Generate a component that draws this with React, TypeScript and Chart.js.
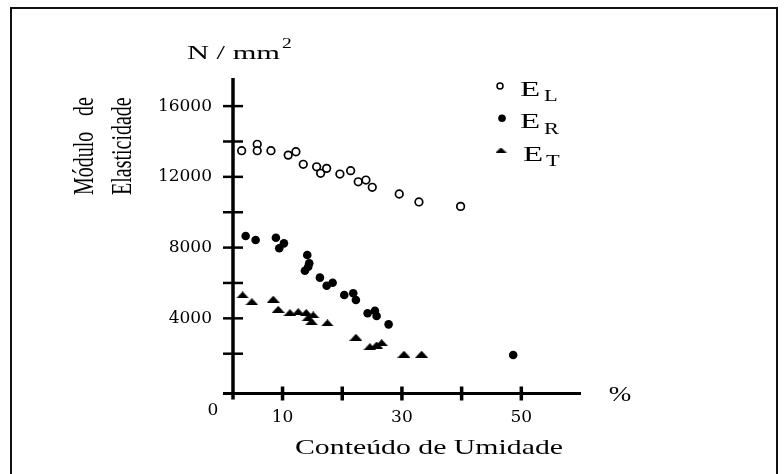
import React, { useEffect, useRef } from 'react';
import { Chart, registerables } from 'chart.js';

Chart.register(...registerables);

// ---- data ----
const elX = [3.15, 5.76, 5.76, 8.06, 10.95, 12.24, 13.47, 15.71, 16.38, 17.39, 19.61, 21.41, 22.68, 23.97, 25.03, 29.55, 32.85, 39.83];
const elY = [13480, 13840, 13480, 13480, 13230, 13420, 12710, 12570, 12200, 12480, 12160, 12350, 11720, 11820, 11410, 11030, 10580, 10330];

const erX = [3.82, 5.49, 8.89, 10.23, 9.45, 14.14, 14.47, 13.75, 14.3, 16.26, 17.39, 18.39, 20.34, 21.84, 22.29, 24.25, 25.48, 25.76, 27.77, 48.64];
const erY = [8655, 8430, 8560, 8240, 7960, 7580, 7110, 6690, 6920, 6300, 5845, 6015, 5320, 5415, 5040, 4285, 4430, 4130, 3660, 1930];

const etX = [3.32, 4.87, 8.44, 9.28, 11.24, 12.63, 13.97, 15.14, 14.25, 14.87, 17.52, 22.29, 24.64, 25.76, 26.6, 30.34, 33.3];
const etY = [5320, 4940, 5080, 4510, 4320, 4375, 4330, 4190, 4020, 3810, 3740, 2930, 2400, 2490, 2620, 1970, 1970];

const xTickMarks = [10, 20, 30, 40, 50];
const xTickLabels = [10, 30, 50];
const yTickMarks = [2000, 4000, 6000, 8000, 10000, 12000, 14000, 16000];
const yTickLabels = [4000, 8000, 12000, 16000];

const legendSubs = ['L', 'R', 'T'];
const yTitle = ['Módulo', 'de', 'Elasticidade'];
const xTitle = 'Conteúdo de Umidade';
const unitMain = 'N / mm';
const unitSup = '2';

const SERIF = '"Liberation Serif", "Times New Roman", serif';
const TICK_FONT = '"DejaVu Serif", serif';

function makeTriangle(w: number, h: number): HTMLCanvasElement {
  const c = document.createElement('canvas');
  c.width = w;
  c.height = h;
  const g = c.getContext('2d')!;
  g.fillStyle = '#000';
  g.beginPath();
  g.moveTo(0, h);
  g.lineTo(w, h);
  g.lineTo(w / 2, 0);
  g.closePath();
  g.fill();
  return c;
}

function stretched(
  ctx: CanvasRenderingContext2D,
  text: string,
  x: number,
  y: number,
  size: number,
  sx: number,
  align: 'left' | 'center' | 'right' = 'left',
  family: string = SERIF
) {
  ctx.save();
  ctx.font = `${size}px ${family}`;
  ctx.textBaseline = 'alphabetic';
  ctx.textAlign = 'left';
  ctx.fillStyle = '#000';
  const w = ctx.measureText(text).width * sx;
  const x0 = align === 'center' ? x - w / 2 : align === 'right' ? x - w : x;
  ctx.translate(x0, y);
  ctx.scale(sx, 1);
  ctx.fillText(text, 0, 0);
  ctx.restore();
  return w;
}

function fitWidth(ctx: CanvasRenderingContext2D, text: string, size: number, target: number) {
  ctx.save();
  ctx.font = `${size}px ${SERIF}`;
  const w = ctx.measureText(text).width;
  ctx.restore();
  return target / w;
}

const decorPlugin = {
  id: 'decor',
  beforeDatasetsDraw(chart: any) {
    const { ctx, chartArea: a, scales } = chart;
    const x = scales.x;
    const y = scales.y;
    ctx.save();
    ctx.strokeStyle = '#000';
    ctx.lineCap = 'butt';
    // y axis
    ctx.lineWidth = 3.5;
    ctx.beginPath();
    ctx.moveTo(a.left, a.top);
    ctx.lineTo(a.left, a.bottom + 6);
    ctx.stroke();
    // x axis
    ctx.lineWidth = 3;
    ctx.beginPath();
    ctx.moveTo(a.left - 10, a.bottom);
    ctx.lineTo(a.right, a.bottom);
    ctx.stroke();
    // y tick marks (crossing)
    ctx.lineWidth = 2.5;
    for (const v of yTickMarks) {
      const py = y.getPixelForValue(v);
      ctx.beginPath();
      ctx.moveTo(a.left - 10, py);
      ctx.lineTo(a.left + 10, py);
      ctx.stroke();
    }
    // x tick marks (crossing)
    ctx.lineWidth = 3.5;
    for (const v of xTickMarks) {
      const px = x.getPixelForValue(v);
      ctx.beginPath();
      ctx.moveTo(px, a.bottom - 7);
      ctx.lineTo(px, a.bottom + 7);
      ctx.stroke();
    }
    ctx.restore();
  },
  afterDraw(chart: any) {
    const { ctx, chartArea: a } = chart;
    // unit label
    const sxU = fitWidth(ctx, unitMain, 19, 93);
    stretched(ctx, unitMain, 187, 58.5, 19, sxU);
    stretched(ctx, unitSup, 282, 48, 14, 1.4);

    // corner zero
    ctx.save();
    ctx.font = `17px ${TICK_FONT}`;
    ctx.fillStyle = '#000';
    ctx.textAlign = 'center';
    ctx.textBaseline = 'middle';
    ctx.fillText('0', a.left - 20, a.bottom + 17);
    ctx.restore();

    // percent
    stretched(ctx, '%', 620, 401, 20, 1.35, 'center');

    // x title
    const sxX = fitWidth(ctx, xTitle, 21, 268);
    stretched(ctx, xTitle, 429, 453.5, 21, sxX, 'center');

    // y title (rotated, two lines)
    ctx.save();
    ctx.font = `20px ${SERIF}`;
    ctx.fillStyle = '#000';
    ctx.textBaseline = 'alphabetic';
    ctx.textAlign = 'left';
    const bottomY = 195;
    const topY = 97;
    ctx.save();
    ctx.translate(93, bottomY);
    ctx.rotate(-Math.PI / 2);
    ctx.scale(1, 1.45);
    ctx.fillText(yTitle[0], 0, 0);
    ctx.restore();
    const wDe = ctx.measureText(yTitle[1]).width;
    ctx.save();
    ctx.translate(93, topY + wDe);
    ctx.rotate(-Math.PI / 2);
    ctx.scale(1, 1.45);
    ctx.fillText(yTitle[1], 0, 0);
    ctx.restore();
    ctx.save();
    ctx.translate(131, bottomY);
    ctx.rotate(-Math.PI / 2);
    ctx.scale(1, 1.45);
    ctx.fillText(yTitle[2], 0, 0);
    ctx.restore();
    ctx.restore();

    // legend
    const tri = makeTriangle(11, 5);
    for (let i = 0; i < 3; i++) {
      const base = 95.7 + 32.5 * i;
      const my = [86, 118.3, 150][i];
      ctx.save();
      ctx.fillStyle = '#000';
      ctx.strokeStyle = '#000';
      if (i === 0) {
        ctx.lineWidth = 1.5;
        ctx.beginPath();
        ctx.arc(500, my, 3, 0, Math.PI * 2);
        ctx.stroke();
      } else if (i === 1) {
        ctx.beginPath();
        ctx.arc(502, my, 3.8, 0, Math.PI * 2);
        ctx.fill();
      } else {
        ctx.drawImage(tri, 501 - 5.5, my - 2.5);
      }
      ctx.restore();
      stretched(ctx, 'E', 520 + (i === 2 ? 3 : 0), base, 22, 1.5);
      stretched(ctx, legendSubs[i], 544 + (i === 2 ? 2 : 0), base + 5.5, 16, 1.4);
    }
  },
};

export default function App() {
  const ref = useRef<HTMLCanvasElement>(null);

  useEffect(() => {
    const canvas = ref.current;
    if (!canvas) return;
    const tri = makeTriangle(13, 7);
    const chart = new Chart(canvas, {
      type: 'scatter',
      data: {
        datasets: [
          {
            label: 'EL',
            data: elX.map((v, i) => ({ x: v, y: elY[i] })),
            pointStyle: 'circle',
            pointRadius: 3.8,
            borderWidth: 1.7,
            borderColor: '#000',
            backgroundColor: '#fff',
          },
          {
            label: 'ER',
            data: erX.map((v, i) => ({ x: v, y: erY[i] })),
            pointStyle: 'circle',
            pointRadius: 4.3,
            borderWidth: 0,
            borderColor: '#000',
            backgroundColor: '#000',
          },
          {
            label: 'ET',
            data: etX.map((v, i) => ({ x: v, y: etY[i] })),
            pointStyle: tri as any,
            pointRadius: 5,
            borderWidth: 0,
            backgroundColor: '#000',
          },
        ],
      },
      options: {
        animation: false,
        responsive: false,
        devicePixelRatio: 1,
        events: [],
        layout: { padding: { left: 0, top: 78, right: 784 - 581, bottom: 0 } },
        plugins: { legend: { display: false }, tooltip: { enabled: false } },
        scales: {
          x: {
            type: 'linear',
            min: 1.7,
            max: 60,
            grid: { display: false, drawTicks: false },
            border: { display: false },
            afterBuildTicks: (s: any) => {
              s.ticks = xTickMarks.map((v) => ({ value: v }));
            },
            afterFit: (s: any) => {
              s.height = 474 - 393.5;
            },
            ticks: {
              padding: 14,
              color: '#000',
              autoSkip: false,
              maxRotation: 0,
              font: { family: TICK_FONT, size: 17 },
              callback: (v: any) => (xTickLabels.includes(Number(v)) ? String(v) : ''),
            },
          },
          y: {
            type: 'linear',
            min: -250,
            max: 17590,
            grid: { display: false, drawTicks: false },
            border: { display: false },
            afterBuildTicks: (s: any) => {
              s.ticks = yTickMarks.map((v) => ({ value: v }));
            },
            afterFit: (s: any) => {
              s.width = 233;
            },
            ticks: {
              padding: 21,
              color: '#000',
              autoSkip: false,
              font: { family: TICK_FONT, size: 17 },
              callback: (v: any) => (yTickLabels.includes(Number(v)) ? String(v) : ''),
            },
          },
        },
      },
      plugins: [decorPlugin],
    } as any);
    return () => chart.destroy();
  }, []);

  return (
    <div
      style={{
        position: 'fixed',
        left: 0,
        top: 0,
        width: 784,
        height: 474,
        background: '#fff',
        overflow: 'hidden',
      }}
    >
      <canvas
        ref={ref}
        width={784}
        height={474}
        style={{ position: 'absolute', left: 0, top: 0, width: 784, height: 474 }}
      />
      <div
        style={{
          position: 'absolute',
          left: 10,
          top: 7,
          width: 764,
          height: 480,
          border: '2px solid #111',
          borderBottom: 'none',
          pointerEvents: 'none',
        }}
      />
    </div>
  );
}
